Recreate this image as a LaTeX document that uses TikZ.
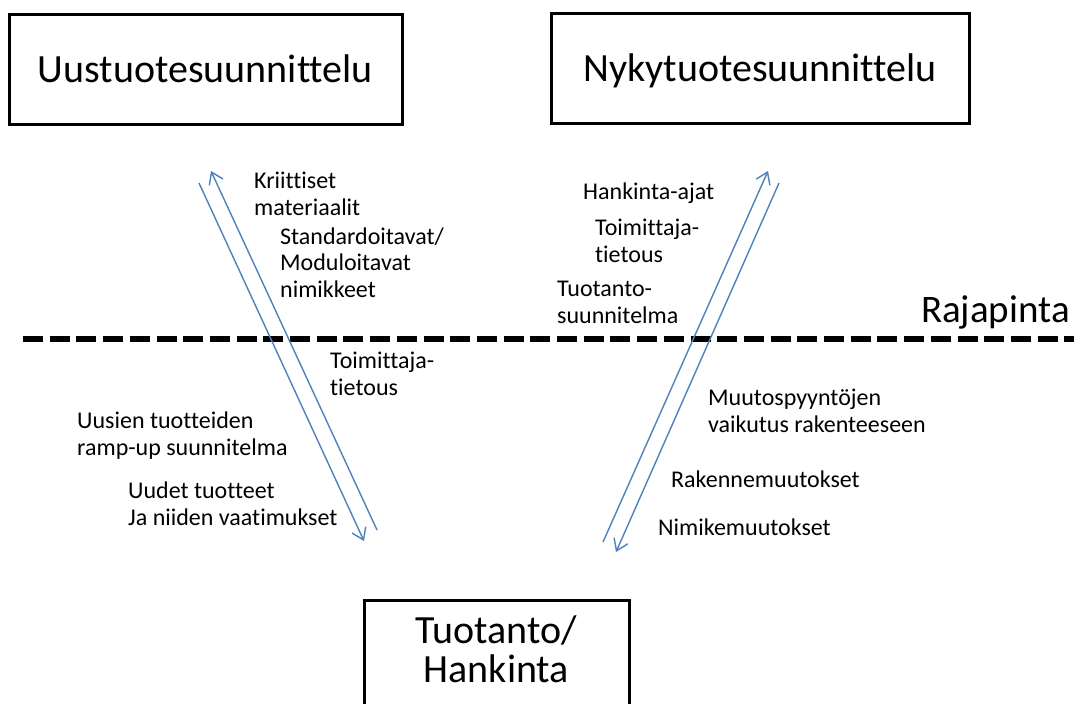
\documentclass[tikz,border=0pt]{standalone}
\usepackage{fontspec}
\setmainfont{Carlito}[Ligatures=NoCommon]
\usetikzlibrary{arrows.meta}
\definecolor{flowblue}{RGB}{79,129,189}
\begin{document}
\begin{tikzpicture}[x=1pt,y=-1pt,
  titlebox/.style={draw=black,line width=3pt,inner sep=0pt,font=\fontsize{40}{39}\selectfont,text height=32pt,text depth=6pt},
  titletext/.style={anchor=base,inner sep=0pt,align=center,font=\fontsize{40}{39}\selectfont},
  lbl/.style={anchor=base west,inner sep=0pt,align=left,font=\fontsize{24}{26.5}\selectfont},
  flow/.style={draw=flowblue,line width=1.4pt,-{Straight Barb[length=11pt,width=15pt,line width=1.4pt]}}]
  \clip (0,0) rectangle (1074,704);
  \fill[white] (0,0) rectangle (1074,704);

  % three organisational units
  \node[titlebox,minimum width=393pt,minimum height=110pt] (uusi) at (205.5,69) {Uustuotesuunnittelu};
  \node[titlebox,minimum width=418pt,minimum height=110pt] (nyky) at (760,68.5) {Nykytuotesuunnittelu};
  \node[draw=black,line width=3pt,minimum width=265pt,minimum height=130pt] (tuot) at (496.5,665) {};
  \node[titletext] (tuotlbl) at (496.5,682) {Tuotanto/\\Hankinta};

  % interface line
  \coordinate (rajaA) at (23,339);
  \coordinate (rajaB) at (1080,339);
  \draw[line width=6pt,dash pattern=on 20pt off 6.7pt] (rajaA) -- (rajaB);
  \node[anchor=base east,inner sep=0pt,font=\fontsize{39}{44}\selectfont] (raja) at (1070,322) {Rajapinta};

  % information flows
  \coordinate (luA) at (377,530);
  \coordinate (luB) at (211,171);
  \coordinate (ldA) at (199,183);
  \coordinate (ldB) at (364,541);
  \coordinate (ruA) at (603,542);
  \coordinate (ruB) at (768,171);
  \coordinate (rdA) at (779,183);
  \coordinate (rdB) at (616,552);
  \draw[flow] (luA) -- (luB);
  \draw[flow] (ldA) -- (ldB);
  \draw[flow] (ruA) -- (ruB);
  \draw[flow] (rdA) -- (rdB);

  % left side labels (base = baseline of the last line)
  \node[lbl] (kriit) at (254,215) {Kriittiset\\materiaalit};
  \node[lbl] (stand) at (280,297) {Standardoitavat/\\Moduloitavat\\nimikkeet};
  \node[lbl] (toimL) at (330,395) {Toimittaja-\\tietous};
  \node[lbl] (ramp) at (77,455) {Uusien tuotteiden\\ramp-up suunnitelma};
  \node[lbl] (uudet) at (128,525) {Uudet tuotteet\\Ja niiden vaatimukset};

  % right side labels
  \node[lbl] (hank) at (583,199) {Hankinta-ajat};
  \node[lbl] (toimR) at (595,262) {Toimittaja-\\tietous};
  \node[lbl] (tsuun) at (557,323) {Tuotanto-\\suunnitelma};
  \node[lbl] (muut) at (708,432) {Muutospyyntöjen\\vaikutus rakenteeseen};
  \node[lbl] (rak) at (671,487) {Rakennemuutokset};
  \node[lbl] (nimi) at (658,535) {Nimikemuutokset};
\end{tikzpicture}
\end{document}
